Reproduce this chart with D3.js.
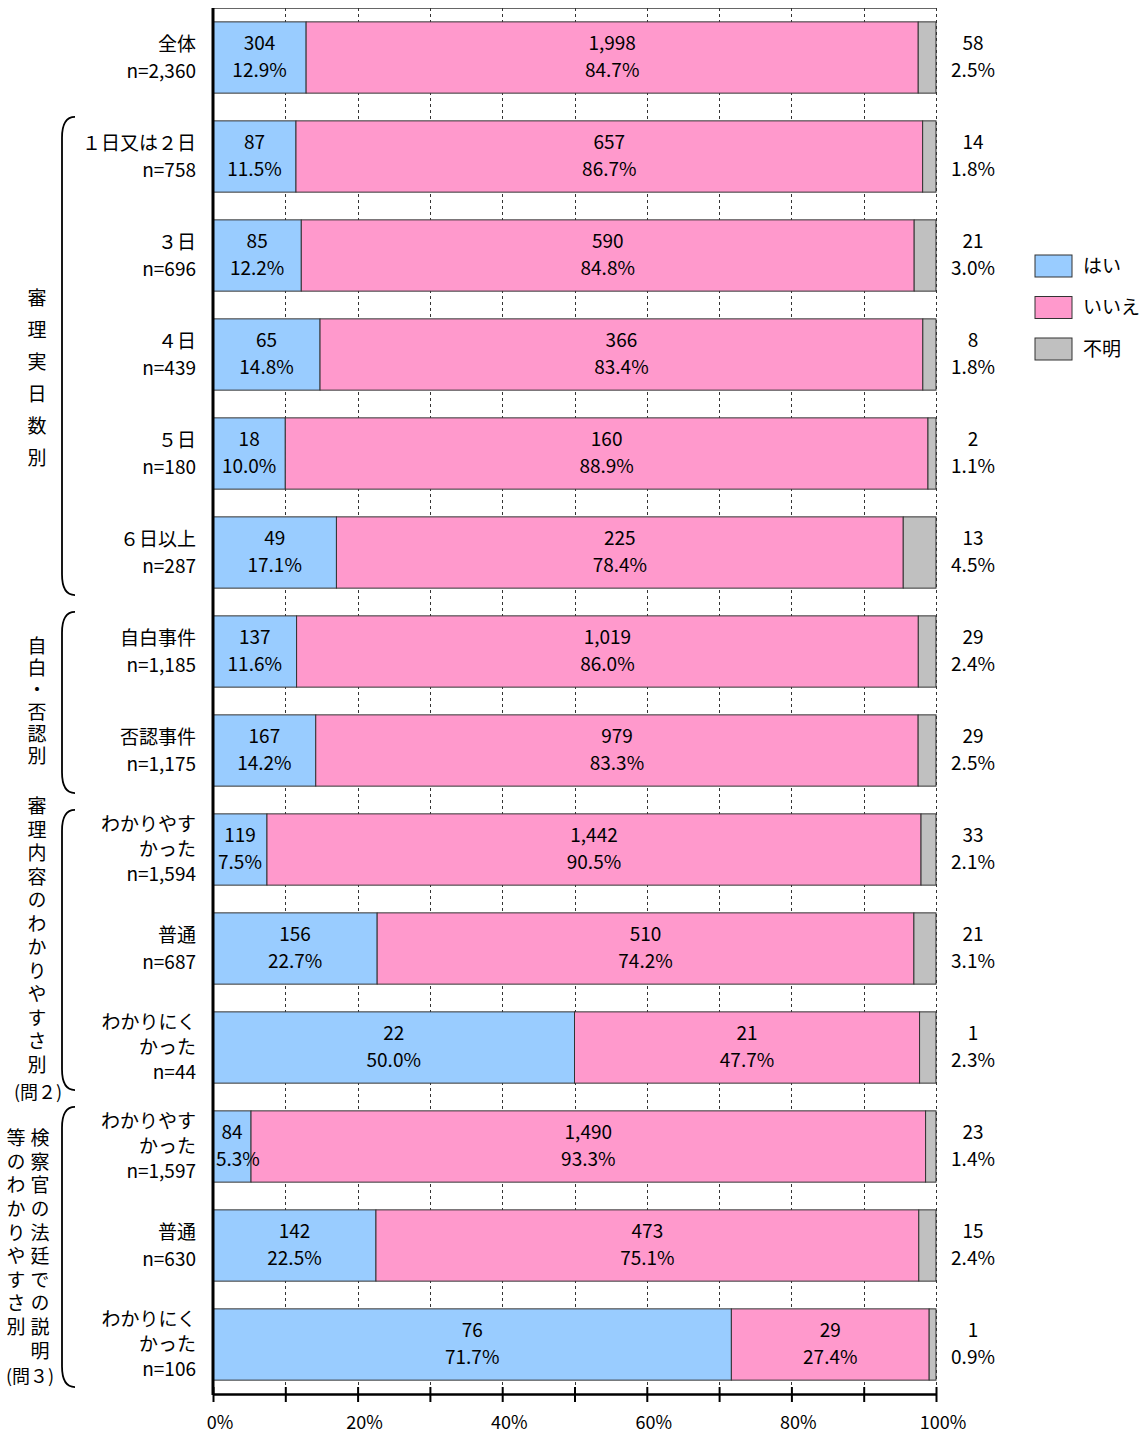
<!DOCTYPE html>
<html>
<head>
<meta charset="utf-8">
<script src="https://cdn.jsdelivr.net/npm/d3@7"></script>
<style>
  body { margin: 0; background: #fff; }
  svg { display: block; font-family: "Noto Sans CJK JP", "Noto Sans", sans-serif; }
  text { fill: #000; }
</style>
</head>
<body>
<svg id="chart"></svg>
<script>
const width = 1143;
const height = 1434;

// categories (label lines) and n
const categories = [
  "全体", "１日又は２日", "３日", "４日", "５日", "６日以上",
  "自白事件", "否認事件",
  "わかりやす\nかった", "普通", "わかりにく\nかった",
  "わかりやす\nかった", "普通", "わかりにく\nかった"
];
const totals = ["2,360", "758", "696", "439", "180", "287", "1,185", "1,175", "1,594", "687", "44", "1,597", "630", "106"];

// series values: counts and percentages
const yesCount = [304, 87, 85, 65, 18, 49, 137, 167, 119, 156, 22, 84, 142, 76];
const noCount = [1998, 657, 590, 366, 160, 225, 1019, 979, 1442, 510, 21, 1490, 473, 29];
const unkCount = [58, 14, 21, 8, 2, 13, 29, 29, 33, 21, 1, 23, 15, 1];
const yesPct = ["12.9%", "11.5%", "12.2%", "14.8%", "10.0%", "17.1%", "11.6%", "14.2%", "7.5%", "22.7%", "50.0%", "5.3%", "22.5%", "71.7%"];
const noPct = ["84.7%", "86.7%", "84.8%", "83.4%", "88.9%", "78.4%", "86.0%", "83.3%", "90.5%", "74.2%", "47.7%", "93.3%", "75.1%", "27.4%"];
const unkPct = ["2.5%", "1.8%", "3.0%", "1.8%", "1.1%", "4.5%", "2.4%", "2.5%", "2.1%", "3.1%", "2.3%", "1.4%", "2.4%", "0.9%"];

const seriesNames = ["はい", "いいえ", "不明"];
const seriesColors = ["#99CCFF", "#FF99CC", "#C0C0C0"];
const tickValues = [0, 0.1, 0.2, 0.3, 0.4, 0.5, 0.6, 0.7, 0.8, 0.9, 1];

// groups: first row, last row, vertical label columns (right to left)
const groups = [
  { from: 1, to: 5, cols: ["審理実日数別"], colX: [37], firstY: 298, spacing: 32, note: null },
  { from: 6, to: 7, cols: ["自白・否認別"], colX: [37], firstY: 646, spacing: 22, note: null },
  { from: 8, to: 10, cols: ["審理内容のわかりやすさ別"], colX: [37], firstY: 806, spacing: 23.5, note: "(問２)", noteX: 38, noteY: 1093 },
  { from: 11, to: 13, cols: ["検察官の法廷での説明", "等のわかりやすさ別"], colX: [40, 16], firstY: 1138, spacing: 23.6, note: "(問３)", noteX: 30, noteY: 1377 }
];

const fmt = d3.format(",");

const svg = d3.select("#chart").attr("width", width).attr("height", height);

const plotLeft = 213, plotRight = 936, plotTop = 8, plotBottom = 1394;

const x = d3.scaleLinear().domain([0, 1]).range([plotLeft, plotRight]);
const y = d3.scaleBand()
  .domain(d3.range(categories.length))
  .range([plotTop, plotBottom])
  .paddingInner(0.28)
  .paddingOuter(0.14);

const rows = categories.map((c, i) => {
  const n = yesCount[i] + noCount[i] + unkCount[i];
  const vals = [yesCount[i], noCount[i], unkCount[i]];
  const pcts = [yesPct[i], noPct[i], unkPct[i]];
  let acc = 0;
  const segs = vals.map((v, k) => {
    const s = { i, k, x0: acc / n, x1: (acc + v) / n, count: v, pct: pcts[k] };
    acc += v;
    return s;
  });
  return { i, label: c, total: totals[i], segs };
});

// top border
svg.append("line")
  .attr("x1", plotLeft).attr("x2", plotRight)
  .attr("y1", plotTop + 0.5).attr("y2", plotTop + 0.5)
  .attr("stroke", "#666").attr("stroke-width", 1);

// dashed grid
svg.append("g")
  .selectAll("line")
  .data(tickValues.slice(1))
  .join("line")
  .attr("x1", d => Math.round(x(d)) + 0.5)
  .attr("x2", d => Math.round(x(d)) + 0.5)
  .attr("y1", plotTop)
  .attr("y2", plotBottom)
  .attr("stroke", "#333")
  .attr("stroke-width", 1)
  .attr("stroke-dasharray", "3,3");

// bars
const bars = svg.append("g");
rows.forEach(r => {
  bars.selectAll(null)
    .data(r.segs)
    .join("rect")
    .attr("x", d => x(d.x0))
    .attr("y", y(r.i))
    .attr("width", d => x(d.x1) - x(d.x0))
    .attr("height", y.bandwidth())
    .attr("fill", d => seriesColors[d.k])
    .attr("stroke", "#333")
    .attr("stroke-width", 1);
});

// value labels (inside bars, unknown to the right)
const lbl = svg.append("g").attr("font-size", 19).attr("text-anchor", "middle");
rows.forEach(r => {
  const mid = y(r.i) + y.bandwidth() / 2;
  r.segs.forEach(s => {
    let cx = (x(s.x0) + x(s.x1)) / 2;
    if (s.k === 2) cx = 973;
    [[fmt(s.count), mid - 14], [s.pct, mid + 13]].forEach(([t, ty]) => {
      const el = lbl.append("text").attr("x", cx).attr("y", ty).attr("dy", "0.35em").text(t);
      const w = el.node().getComputedTextLength();
      if (cx - w / 2 < plotLeft + 3) el.attr("x", plotLeft + 3 + w / 2);
    });
  });
});

// category labels
const cat = svg.append("g").attr("font-size", 19).attr("text-anchor", "end");
rows.forEach(r => {
  const lines = r.label.split("\n").concat(["n=" + r.total]);
  const mid = y(r.i) + y.bandwidth() / 2;
  const step = lines.length === 3 ? 25 : 27;
  lines.forEach((t, j) => {
    cat.append("text")
      .attr("x", 196)
      .attr("y", mid + (j - (lines.length - 1) / 2) * step)
      .attr("dy", "0.35em")
      .text(t);
  });
});

// group brackets and vertical labels
const grp = svg.append("g");
const fs = 19;
groups.forEach(g => {
  const top = y(g.from) - 4;
  const bot = y(g.to) + y.bandwidth() + 7;
  const bx = 62, r = 13;
  grp.append("path")
    .attr("d", `M${bx + r},${top} Q${bx},${top} ${bx},${top + r * 1.6} L${bx},${bot - r * 1.6} Q${bx},${bot} ${bx + r},${bot}`)
    .attr("fill", "none")
    .attr("stroke", "#000")
    .attr("stroke-width", 1.8);

  g.cols.forEach((c, ci) => {
    grp.append("text")
      .attr("x", g.colX[ci])
      .attr("y", g.firstY - fs / 2)
      .attr("font-size", fs)
      .style("writing-mode", "vertical-rl")
      .style("letter-spacing", (g.spacing - fs) + "px")
      .text(c);
  });
  if (g.note) {
    grp.append("text")
      .attr("x", g.noteX)
      .attr("y", g.noteY)
      .attr("dy", "0.35em")
      .attr("text-anchor", "middle")
      .attr("font-size", 18)
      .text(g.note);
  }
});

// axes
svg.append("line")
  .attr("x1", plotLeft).attr("x2", plotLeft)
  .attr("y1", plotTop).attr("y2", plotBottom + 1)
  .attr("stroke", "#000").attr("stroke-width", 3);

const xAxis = d3.axisBottom(x)
  .tickValues(tickValues)
  .tickSize(0)
  .tickFormat("");
const ax = svg.append("g")
  .attr("transform", `translate(0,${plotBottom})`)
  .call(xAxis);
ax.select(".domain").attr("stroke", "#000").attr("stroke-width", 2.5);
ax.selectAll(".tick")
  .append("line")
  .attr("y1", -7).attr("y2", 8)
  .attr("stroke", "#000").attr("stroke-width", 2);

svg.append("g")
  .attr("font-size", 18)
  .attr("text-anchor", "middle")
  .selectAll("text")
  .data(tickValues.filter((d, i) => i % 2 === 0))
  .join("text")
  .attr("x", d => x(d) + 7)
  .attr("y", 1423)
  .attr("dy", "0.35em")
  .text(d => Math.round(d * 100) + "%");

// legend
const legend = svg.append("g").attr("transform", "translate(1035,255)");
seriesNames.forEach((name, k) => {
  legend.append("rect")
    .attr("x", 0).attr("y", k * 41.5)
    .attr("width", 37).attr("height", 22)
    .attr("fill", seriesColors[k])
    .attr("stroke", "#333").attr("stroke-width", 1);
  legend.append("text")
    .attr("x", 48).attr("y", k * 41.5 + 11)
    .attr("dy", "0.35em")
    .attr("font-size", 19)
    .text(name);
});
</script>
</body>
</html>
